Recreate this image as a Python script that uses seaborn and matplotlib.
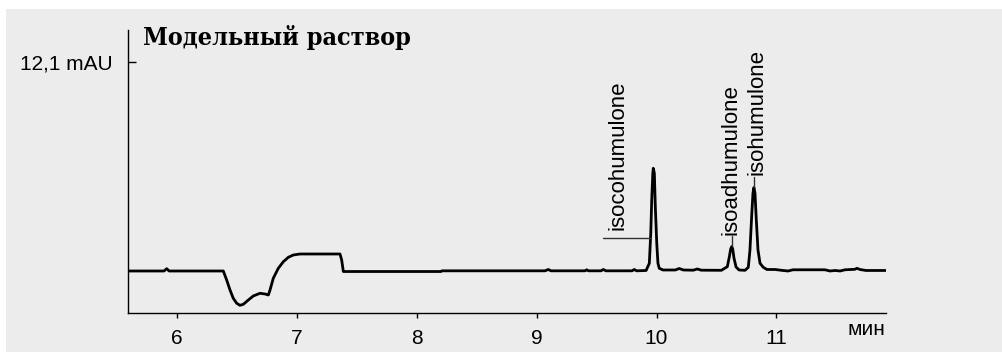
import matplotlib
matplotlib.use("Agg")
import matplotlib.pyplot as plt
import seaborn as sns
import pandas as pd

# ---- data (time in min, signal in mAU) ----
time_min = [5.591, 5.889, 5.912, 5.931, 6.384, 6.412, 6.440, 6.467, 6.496, 6.523,
            6.551, 6.593, 6.634, 6.690, 6.732, 6.760, 6.774, 6.801, 6.843, 6.885,
            6.927, 6.968, 7.024, 7.358, 7.372, 7.386, 8.201, 8.209, 9.069, 9.097,
            9.119, 9.403, 9.417, 9.432, 9.536, 9.556, 9.578, 9.795, 9.815, 9.833,
            9.913, 9.940, 9.952, 9.960, 9.969, 9.973, 9.982, 9.990, 10.002, 10.012,
            10.023, 10.054, 10.157, 10.190, 10.224, 10.307, 10.340, 10.374, 10.541,
            10.591, 10.608, 10.619, 10.628, 10.636, 10.647, 10.664, 10.689, 10.739,
            10.766, 10.780, 10.794, 10.805, 10.813, 10.822, 10.833, 10.847, 10.864,
            10.891, 10.922, 10.989, 11.056, 11.098, 11.139, 11.406, 11.448, 11.490,
            11.532, 11.573, 11.656, 11.673, 11.698, 11.748, 11.915]
signal_mau = [0.0, 0.0, 0.133, 0.0, 0.0, -0.521, -1.100, -1.580, -1.870, -1.986,
              -1.928, -1.679, -1.447, -1.291, -1.331, -1.389, -1.100, -0.423, 0.156, 0.538,
              0.793, 0.926, 0.984, 0.984, 0.637, -0.03, -0.03, 0.01, 0.01, 0.087,
              0.01, 0.01, 0.07, 0.01, 0.01, 0.087, 0.01, 0.01, 0.087, 0.01,
              0.03, 0.446, 2.183, 4.110, 5.656, 5.945, 5.656, 3.722, 1.604, 0.446,
              0.156, 0.058, 0.058, 0.145, 0.058, 0.046, 0.116, 0.046, 0.04,
              0.249, 0.828, 1.274, 1.418, 1.274, 0.735, 0.232, 0.058, 0.04,
              0.214, 1.216, 3.143, 4.498, 4.834, 4.498, 2.952, 1.216, 0.446,
              0.214, 0.087, 0.087, 0.029, 0.0, 0.07, 0.07, 0.0, 0.03,
              0.0, 0.07, 0.098, 0.156, 0.087, 0.03, 0.03]

x_ticks = [6, 7, 8, 9, 10, 11]
x_tick_labels = ["6", "7", "8", "9", "10", "11"]
y_ticks = [12.1]
y_tick_labels = ["12,1 mAU"]

peak_names = ["isocohumulone", "isoadhumulone", "isohumulone"]
label_x = [9.679, 10.624, 10.836]
label_y = [2.374, 2.084, 5.557]

title = "Модельный раствор"
x_unit = "мин"

df = pd.DataFrame({"t": time_min, "v": signal_mau})

sns.set_style("white")
plt.rcParams["font.family"] = ["Liberation Sans", "DejaVu Sans"]

bg = "#ececec"
fig = plt.figure(figsize=(10.03, 3.52), dpi=100, facecolor="white")
fig.patches.append(plt.Rectangle((6 / 1003, 0), 1 - 6 / 1003, (352 - 9) / 352,
                                 transform=fig.transFigure, facecolor=bg,
                                 edgecolor="none", zorder=-10))
ax = fig.add_axes([128.3 / 1003, (352 - 312.7) / 352, (885.7 - 128.3) / 1003,
                   (312.7 - 30) / 352])
ax.set_facecolor("none")

sns.lineplot(data=df, x="t", y="v", ax=ax, sort=False, estimator=None,
             color="black", linewidth=2.0)

ax.set_xlim(5.591, 11.913)
ax.set_ylim(-2.414, 13.95)
for s in ["top", "right"]:
    ax.spines[s].set_visible(False)
for s in ["left", "bottom"]:
    ax.spines[s].set_color("black")
    ax.spines[s].set_linewidth(1.0)

ax.set_xticks(x_ticks)
ax.set_xticklabels(x_tick_labels, fontsize=15)
ax.set_yticks(y_ticks)
ax.set_yticklabels(y_tick_labels, fontsize=15)
ax.tick_params(axis="x", bottom=True, direction="out", length=3.5, width=1.0, pad=8,
               colors="black")
ax.tick_params(axis="y", left=True, direction="in", length=6, width=1.0, pad=11,
               colors="black")
ax.set_xlabel("")
ax.set_ylabel("")

# peak labels and leaders
for name, lx, ly in zip(peak_names, label_x, label_y):
    ax.text(lx, ly, name, rotation=90, ha="center", va="bottom", fontsize=16, color="black")
ax.plot([9.553, 9.954], [1.91, 1.91], color="#333333", linewidth=1.0)
ax.plot([10.628, 10.628], [2.05, 1.45], color="#333333", linewidth=1.0)
ax.plot([10.813, 10.813], [5.44, 4.85], color="#333333", linewidth=1.0)

ax.text(1.0, -0.079, x_unit, transform=ax.transAxes, ha="right", va="baseline",
        fontsize=15, color="black")

fig.text(143 / 1003, 1 - 45 / 352, title, family="DejaVu Serif", weight="bold",
         fontstretch="condensed", fontsize=18, va="baseline", ha="left", color="black")

fig.savefig("out.png", dpi=100, facecolor="white")
